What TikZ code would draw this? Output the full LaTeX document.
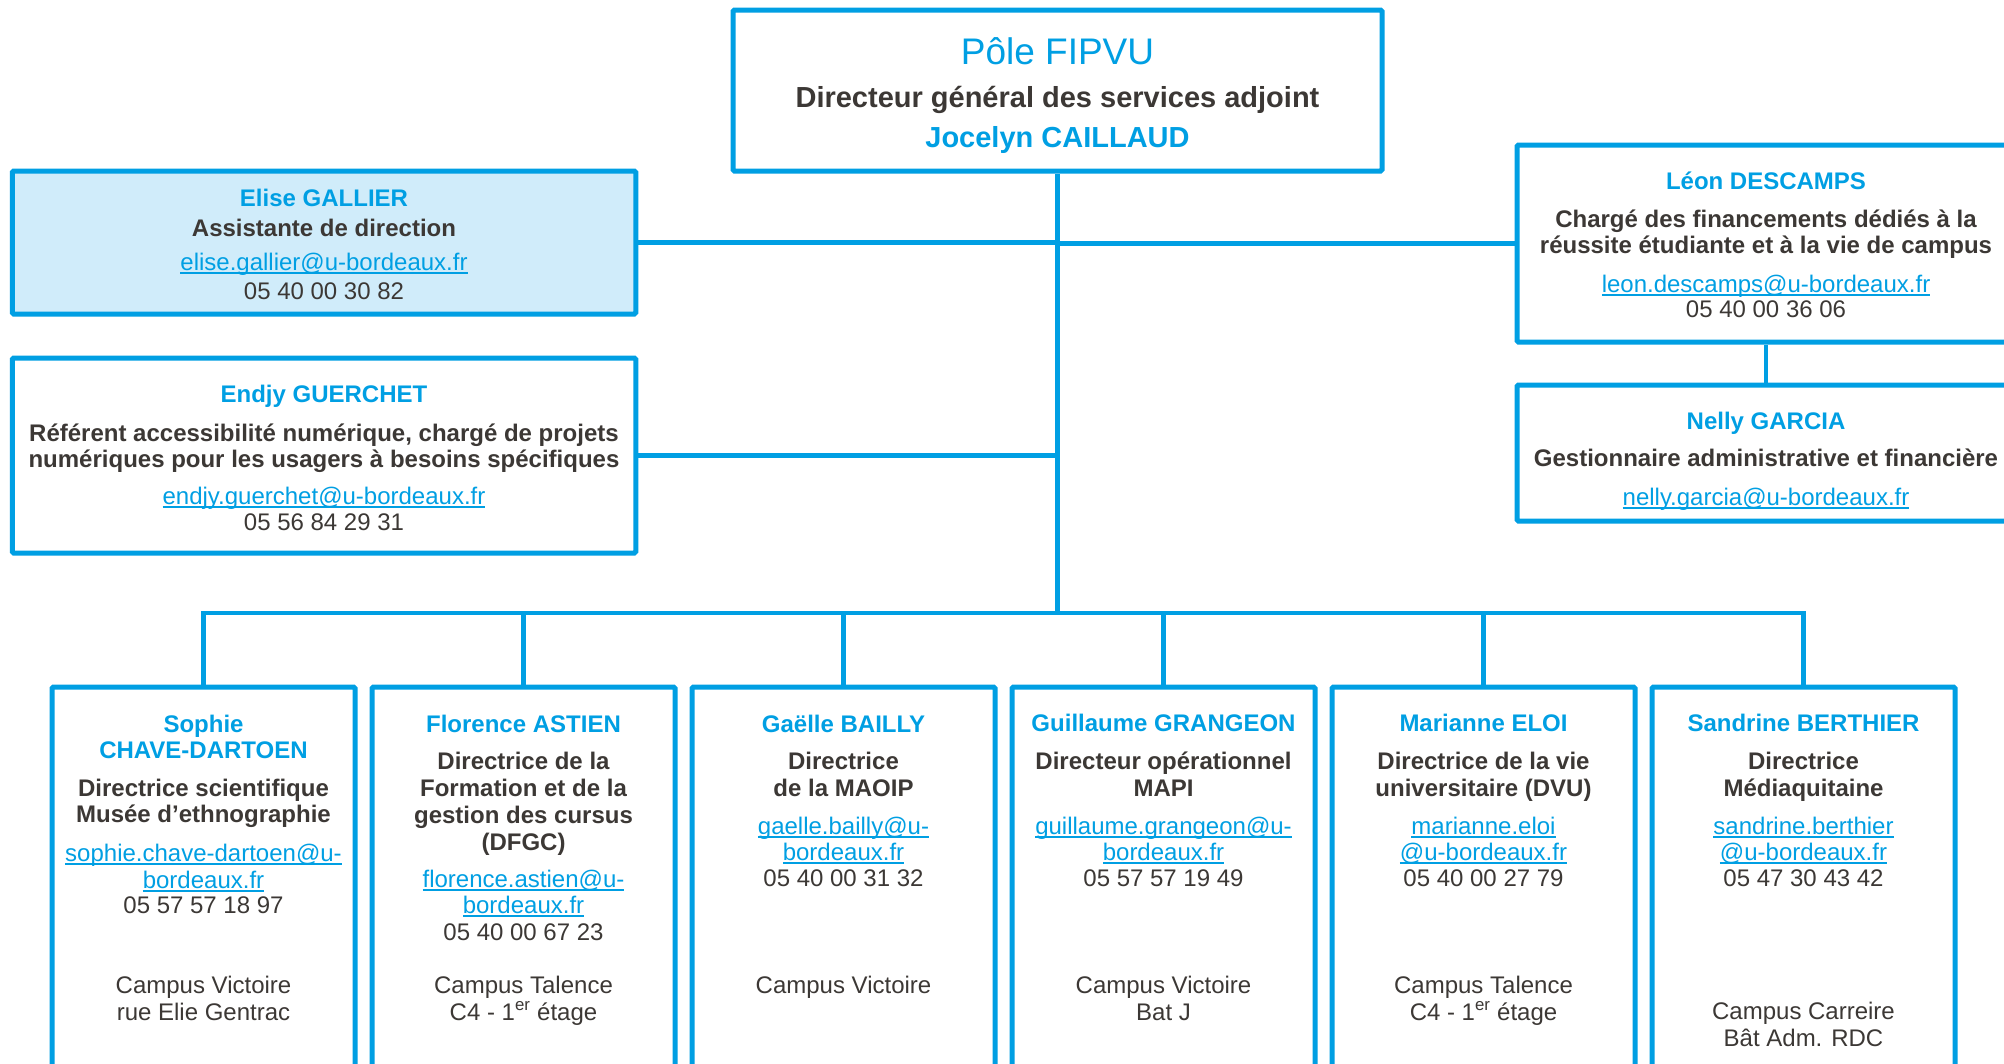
\documentclass[tikz,border=0pt]{standalone}
\usepackage{fontspec}
\setmainfont{Liberation Sans}
\definecolor{fblue}{HTML}{009FE3}
\definecolor{fdark}{HTML}{3C3835}
\definecolor{ffill}{HTML}{D0ECFA}
\newcommand\mailu[1]{\setbox0\hbox{#1}\rlap{\vrule width\wd0 height -2.2pt depth 3.8pt}\box0}
\begin{document}
\begin{tikzpicture}[x=1pt,y=-1pt,
  box/.style={draw=fblue, line width=5pt, rounded corners=1.5pt, inner sep=0pt, fill=white},
  conn/.style={draw=fblue, line width=4.5pt},
  nm/.style={text=fblue, font=\fontsize{24}{27}\selectfont\bfseries, anchor=base, inner sep=0pt},
  rl/.style={text=fdark, font=\fontsize{24}{27}\selectfont\bfseries, anchor=base, inner sep=0pt},
  ml/.style={text=fblue, font=\fontsize{24}{27}\selectfont, anchor=base, inner sep=0pt},
  tx/.style={text=fdark, font=\fontsize{24}{27}\selectfont, anchor=base, inner sep=0pt},
  bot/.style={box, minimum width=303pt, minimum height=420pt}]
\useasboundingbox (0,0) rectangle (2004,1063);
\fill[white] (0,0) rectangle (2004,1063);

% connectors first (behind boxes)
\coordinate (trunkB) at (1057.5,613);
\coordinate (busL) at (203.5,613);

% boxes
\node[box, minimum width=649pt, minimum height=161pt] (top) at (1057.5,90.5) {};
\node[box, fill=ffill, minimum width=623.5pt, minimum height=143pt] (elise) at (324,242.5) {};
\node[box, minimum width=623.5pt, minimum height=195pt] (endjy) at (324,455.5) {};
\node[box, minimum width=498pt, minimum height=197pt] (leon) at (1766,243.5) {};
\node[box, minimum width=498pt, minimum height=136pt] (nelly) at (1766,453) {};
\node[bot] (b1) at (203.5,897) {};
\node[bot] (b2) at (523.5,897) {};
\node[bot] (b3) at (843.5,897) {};
\node[bot] (b4) at (1163.5,897) {};
\node[bot] (b5) at (1483.5,897) {};
\node[bot] (b6) at (1803.5,897) {};

% connectors
\draw[conn] (top.south) -- (trunkB);
\draw[conn] (elise.east) -- (elise.east -| top.south);
\draw[conn] (endjy.east) -- (endjy.east -| top.south);
\draw[conn] (leon.west) -- (leon.west -| top.south);
\draw[conn] (leon.south) -- (nelly.north);
\draw[conn] (b1.north) |- (busL) -| (b6.north);
\draw[conn] (b2.north) -- (b2.north |- busL);
\draw[conn] (b3.north) -- (b3.north |- busL);
\draw[conn] (b4.north) -- (b4.north |- busL);
\draw[conn] (b5.north) -- (b5.north |- busL);

% top box
\node[text=fblue, font=\fontsize{37}{40}\selectfont, anchor=base, inner sep=0pt] (t1) at (1057.5,64) {Pôle FIPVU};
\node[text=fdark, font=\fontsize{29}{32}\selectfont\bfseries, anchor=base, inner sep=0pt] (t2) at (1057.5,107) {Directeur général des services adjoint};
\node[text=fblue, font=\fontsize{29}{32}\selectfont\bfseries, anchor=base, inner sep=0pt] (t3) at (1057.5,147) {Jocelyn CAILLAUD};

% Elise
\node[nm] (e1) at (324,206) {Elise GALLIER};
\node[rl] (e2) at (324,236) {Assistante de direction};
\node[ml] (e3) at (324,270) {\mailu{elise.gallier@u-bordeaux.fr}};
\node[tx] (e4) at (324,299) {05 40 00 30 82};

% Endjy
\node[nm] (g1) at (324,402) {Endjy GUERCHET};
\node[rl] (g2) at (324,441) {Référent accessibilité numérique, chargé de projets};
\node[rl] (g3) at (324,467) {numériques pour les usagers à besoins spécifiques};
\node[ml] (g4) at (324,504) {\mailu{endjy.guerchet@u-bordeaux.fr}};
\node[tx] (g5) at (324,530) {05 56 84 29 31};

% Leon
\node[nm] (l1) at (1766,189) {Léon DESCAMPS};
\node[rl] (l2) at (1766,227) {Chargé des financements dédiés à la};
\node[rl] (l3) at (1766,253) {réussite étudiante et à la vie de campus};
\node[ml] (l4) at (1766,292) {\mailu{leon.descamps@u-bordeaux.fr}};
\node[tx] (l5) at (1766,317) {05 40 00 36 06};

% Nelly
\node[nm] (n1) at (1766,429) {Nelly GARCIA};
\node[rl] (n2) at (1766,466) {Gestionnaire administrative et financière};
\node[ml] (n3) at (1766,505) {\mailu{nelly.garcia@u-bordeaux.fr}};

% Box 1
\node[nm] (s1) at (203.5,732) {Sophie};
\node[nm] (s2) at (203.5,758) {CHAVE-DARTOEN};
\node[rl] (s3) at (203.5,796) {Directrice scientifique};
\node[rl] (s4) at (203.5,822) {Musée d’ethnographie};
\node[ml] (s5) at (203.5,861) {\mailu{sophie.chave-dartoen@u-}};
\node[ml] (s6) at (203.5,888) {\mailu{bordeaux.fr}};
\node[tx] (s7) at (203.5,913) {05 57 57 18 97};
\node[tx] (s8) at (203.5,993) {Campus Victoire};
\node[tx] (s9) at (203.5,1020) {rue Elie Gentrac};

% Box 2
\node[nm] (f1) at (523.5,732) {Florence ASTIEN};
\node[rl] (f2) at (523.5,769) {Directrice de la};
\node[rl] (f3) at (523.5,796) {Formation et de la};
\node[rl] (f4) at (523.5,823) {gestion des cursus};
\node[rl] (f5) at (523.5,850) {(DFGC)};
\node[ml] (f6) at (523.5,887) {\mailu{florence.astien@u-}};
\node[ml] (f7) at (523.5,913) {\mailu{bordeaux.fr}};
\node[tx] (f8) at (523.5,940) {05 40 00 67 23};
\node[tx] (f9) at (523.5,993) {Campus Talence};
\node[tx] (f10) at (523.5,1020) {C4 - 1\textsuperscript{er} étage};

% Box 3
\node[nm] (a1) at (843.5,732) {Gaëlle BAILLY};
\node[rl] (a2) at (843.5,769) {Directrice};
\node[rl] (a3) at (843.5,796) {de la MAOIP};
\node[ml] (a4) at (843.5,834) {\mailu{gaelle.bailly@u-}};
\node[ml] (a5) at (843.5,860) {\mailu{bordeaux.fr}};
\node[tx] (a6) at (843.5,886) {05 40 00 31 32};
\node[tx] (a7) at (843.5,993) {Campus Victoire};

% Box 4
\node[nm] (u1) at (1163.5,731) {Guillaume GRANGEON};
\node[rl] (u2) at (1163.5,769) {Directeur opérationnel};
\node[rl] (u3) at (1163.5,796) {MAPI};
\node[ml] (u4) at (1163.5,834) {\mailu{guillaume.grangeon@u-}};
\node[ml] (u5) at (1163.5,860) {\mailu{bordeaux.fr}};
\node[tx] (u6) at (1163.5,886) {05 57 57 19 49};
\node[tx] (u7) at (1163.5,993) {Campus Victoire};
\node[tx] (u8) at (1163.5,1020) {Bat J};

% Box 5
\node[nm] (m1) at (1483.5,731) {Marianne ELOI};
\node[rl] (m2) at (1483.5,769) {Directrice de la vie};
\node[rl] (m3) at (1483.5,796) {universitaire (DVU)};
\node[ml] (m4) at (1483.5,834) {\mailu{marianne.eloi}};
\node[ml] (m5) at (1483.5,860) {\mailu{@u-bordeaux.fr}};
\node[tx] (m6) at (1483.5,886) {05 40 00 27 79};
\node[tx] (m7) at (1483.5,993) {Campus Talence};
\node[tx] (m8) at (1483.5,1020) {C4 - 1\textsuperscript{er} étage};

% Box 6
\node[nm] (r1) at (1803.5,731) {Sandrine BERTHIER};
\node[rl] (r2) at (1803.5,769) {Directrice};
\node[rl] (r3) at (1803.5,796) {Médiaquitaine};
\node[ml] (r4) at (1803.5,834) {\mailu{sandrine.berthier}};
\node[ml] (r5) at (1803.5,860) {\mailu{@u-bordeaux.fr}};
\node[tx] (r6) at (1803.5,886) {05 47 30 43 42};
\node[tx] (r7) at (1803.5,1019) {Campus Carreire};
\node[tx] (r8) at (1803.5,1046) {Bât Adm. RDC};
\end{tikzpicture}
\end{document}
